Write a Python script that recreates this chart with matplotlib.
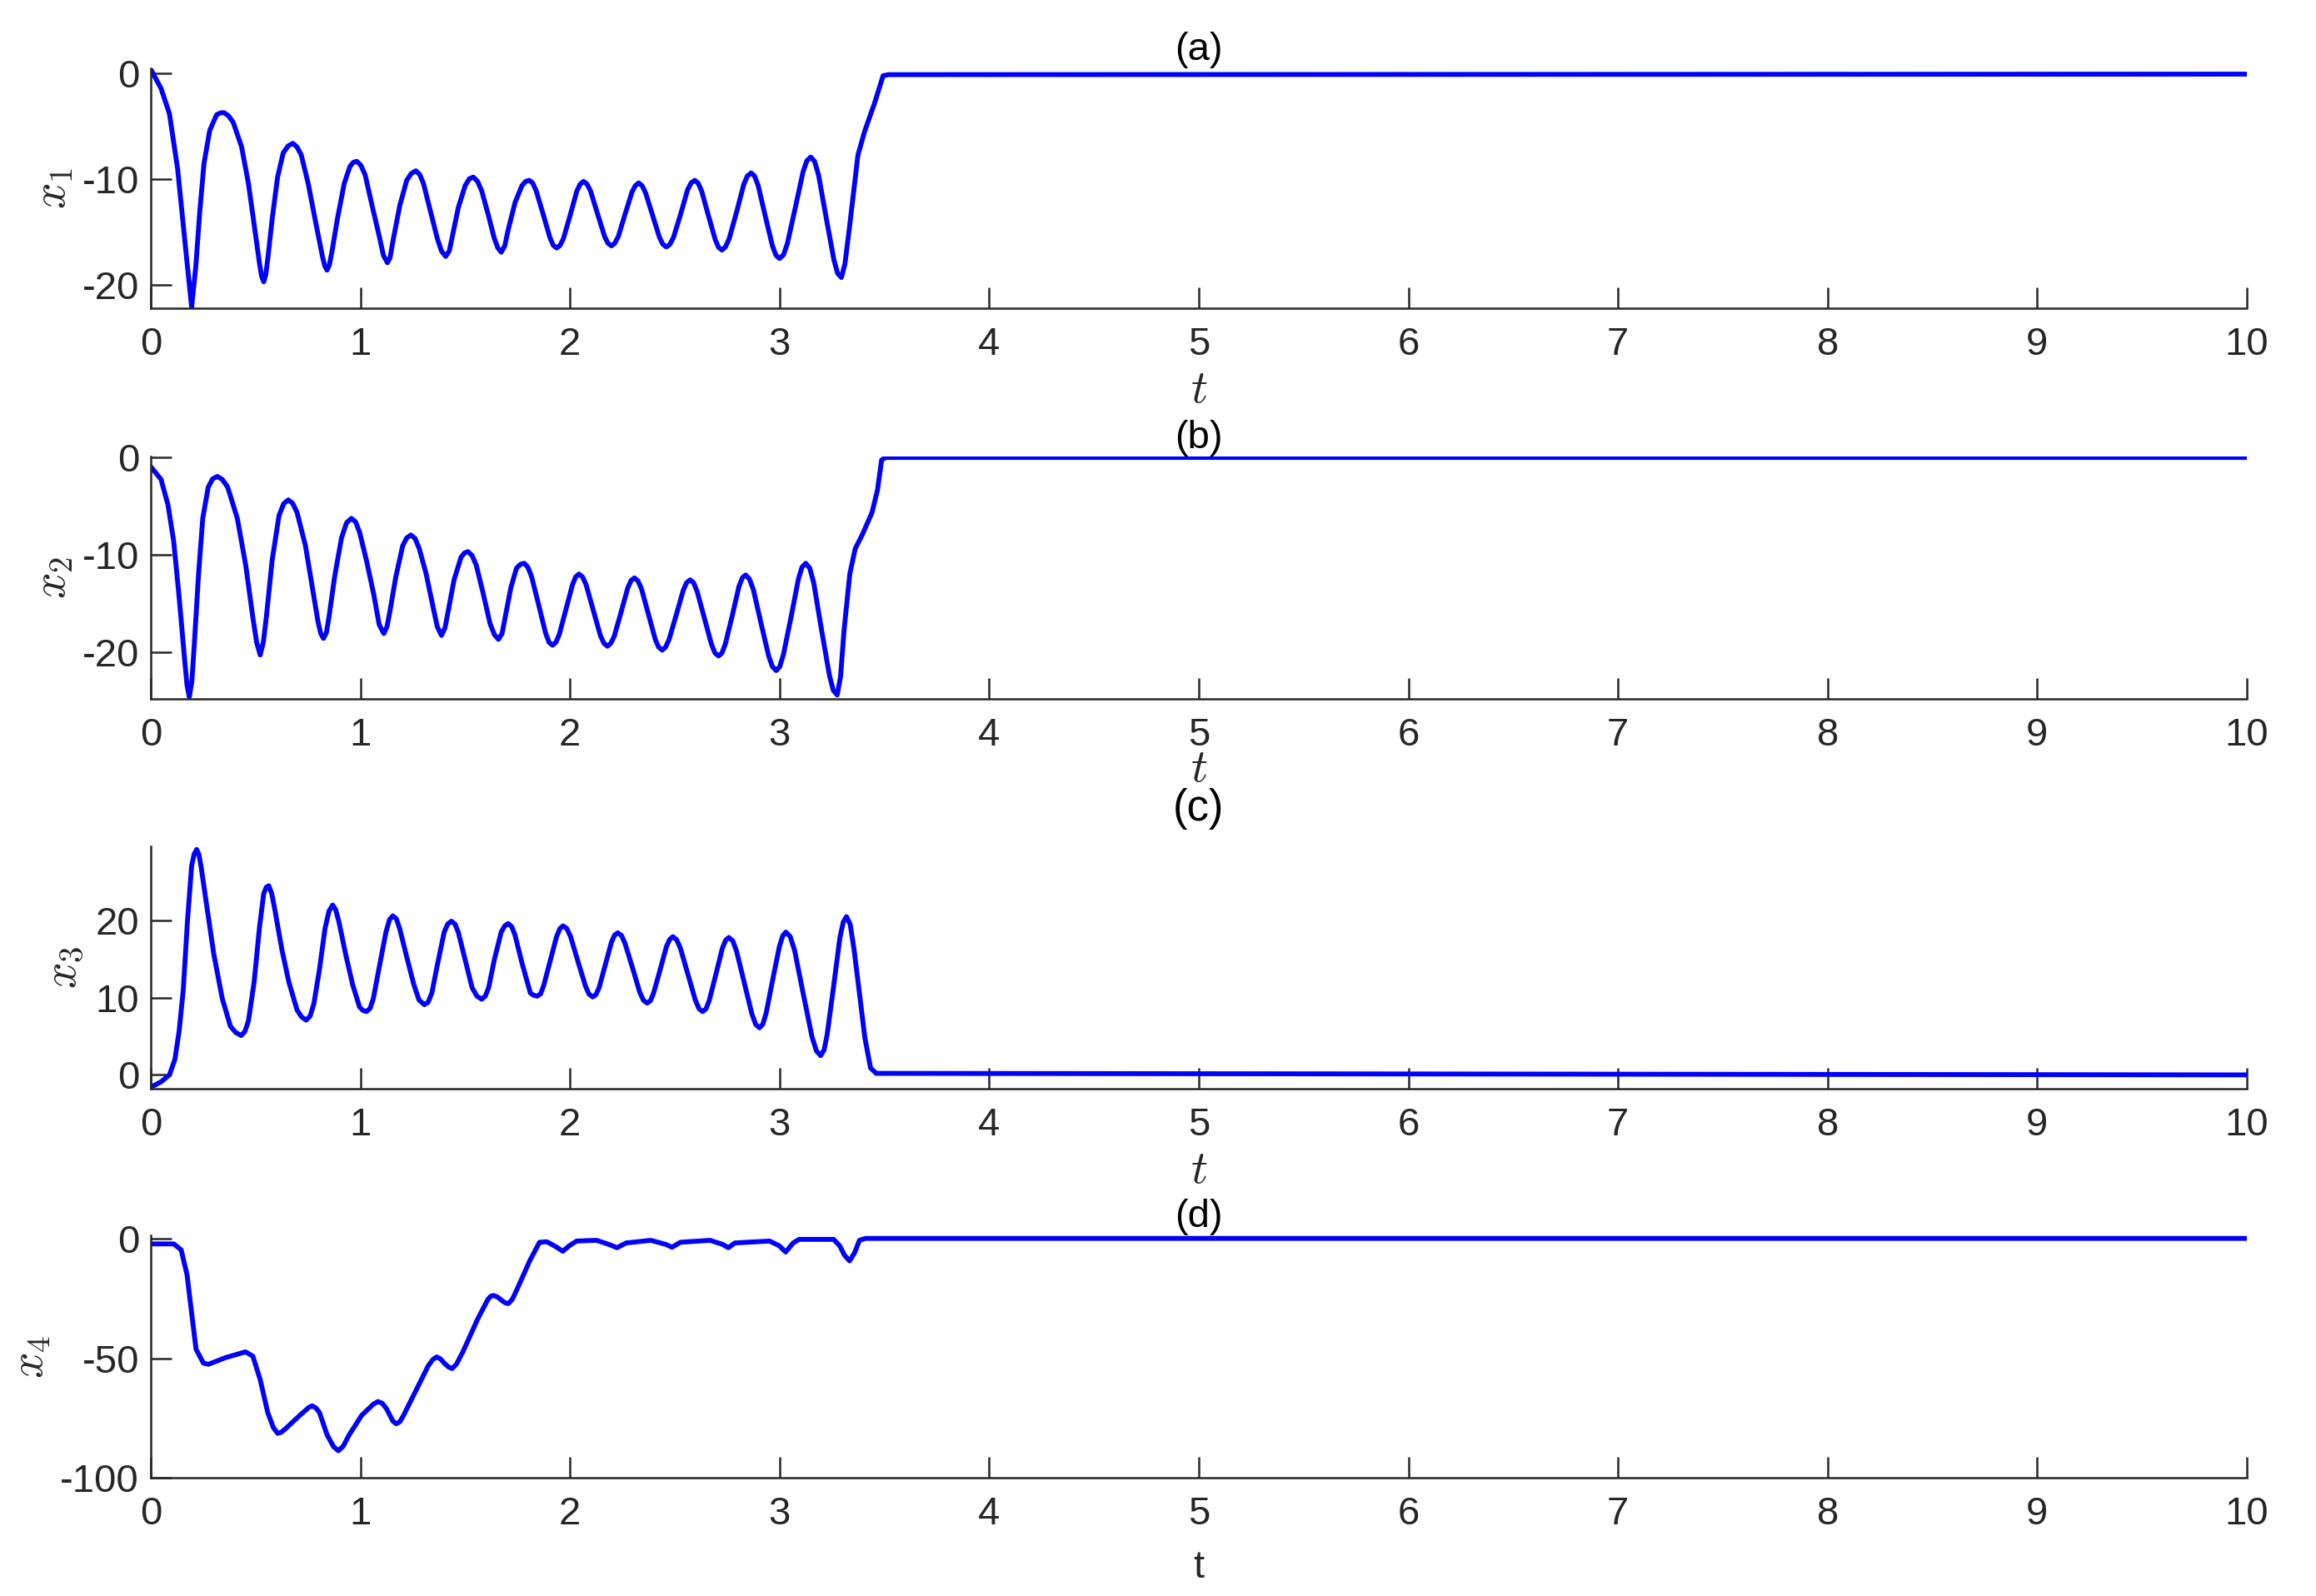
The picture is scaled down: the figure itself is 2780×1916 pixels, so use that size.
import numpy as np
import matplotlib
matplotlib.use("Agg")
import matplotlib.pyplot as plt

plt.rcParams['font.family'] = ['Liberation Sans', 'DejaVu Sans']
plt.rcParams['mathtext.fontset'] = 'cm'
plt.rcParams['axes.unicode_minus'] = False

# (t, value) pairs
x1_pts = [(0.0, 0.4), (0.049, -1.4), (0.089, -3.8), (0.128, -9.0), (0.168, -16.9), (0.195, -22.1), (0.215, -18.2),
          (0.234, -13.0), (0.254, -8.5), (0.281, -5.4), (0.314, -3.9), (0.332, -3.72), (0.350, -3.7), (0.371, -4.0),
          (0.393, -4.6), (0.433, -6.9), (0.466, -10.4), (0.493, -14.3), (0.519, -18.0), (0.529, -19.2), (0.539, -19.7),
          (0.549, -19.0), (0.559, -17.4), (0.579, -13.8), (0.605, -9.8), (0.632, -7.5), (0.655, -6.85), (0.678, -6.6),
          (0.698, -6.95), (0.718, -7.7), (0.751, -10.4), (0.784, -13.8), (0.818, -17.2), (0.830, -18.2), (0.841, -18.6),
          (0.852, -18.1), (0.864, -16.9), (0.890, -13.8), (0.923, -10.4), (0.950, -8.8), (0.966, -8.4), (0.983, -8.3),
          (1.003, -8.7), (1.023, -9.6), (1.056, -12.5), (1.089, -15.3), (1.110, -17.2), (1.129, -17.9), (1.142, -17.4),
          (1.155, -15.9), (1.188, -12.5), (1.221, -10.1), (1.243, -9.45), (1.265, -9.2), (1.283, -9.55), (1.301, -10.4),
          (1.334, -13.0), (1.367, -15.6), (1.387, -16.8), (1.407, -17.3), (1.424, -16.8), (1.440, -15.3), (1.467, -12.7),
          (1.500, -10.6), (1.520, -9.95), (1.539, -9.8), (1.559, -10.2), (1.579, -11.1), (1.612, -13.5), (1.639, -15.6),
          (1.656, -16.5), (1.672, -16.9), (1.689, -16.3), (1.705, -14.8), (1.738, -12.2), (1.771, -10.6), (1.789, -10.2),
          (1.806, -10.1), (1.822, -10.35), (1.839, -11.1), (1.872, -13.3), (1.904, -15.5), (1.920, -16.25), (1.937, -16.5),
          (1.953, -16.25), (1.969, -15.6), (2.001, -13.4), (2.033, -11.1), (2.049, -10.45), (2.065, -10.2), (2.081, -10.45),
          (2.098, -11.1), (2.132, -13.3), (2.165, -15.4), (2.181, -16.05), (2.198, -16.3), (2.214, -16.05), (2.231, -15.4),
          (2.263, -13.3), (2.296, -11.2), (2.312, -10.6), (2.328, -10.35), (2.344, -10.6), (2.361, -11.3), (2.394, -13.4),
          (2.427, -15.5), (2.443, -16.15), (2.460, -16.4), (2.477, -16.15), (2.494, -15.5), (2.528, -13.3), (2.561, -11.0),
          (2.578, -10.35), (2.595, -10.1), (2.611, -10.35), (2.628, -11.1), (2.660, -13.4), (2.693, -15.7), (2.709, -16.45),
          (2.725, -16.7), (2.742, -16.4), (2.760, -15.6), (2.795, -13.1), (2.829, -10.5), (2.846, -9.7), (2.864, -9.4),
          (2.881, -9.7), (2.898, -10.6), (2.932, -13.5), (2.966, -16.3), (2.983, -17.2), (3.000, -17.5), (3.019, -17.15),
          (3.037, -16.1), (3.075, -12.7), (3.112, -9.3), (3.130, -8.25), (3.149, -7.9), (3.167, -8.3), (3.186, -9.6),
          (3.222, -13.6), (3.259, -17.6), (3.277, -18.9), (3.295, -19.3), (3.312, -18.0), (3.335, -14.3), (3.374, -7.7),
          (3.407, -5.4), (3.454, -2.75), (3.494, -0.2), (3.520, -0.1), (10.0, -0.05)]

x2_pts = [(0.0, -1.0), (0.049, -2.3), (0.082, -4.9), (0.109, -8.6), (0.135, -14.3), (0.162, -20.9), (0.173, -23.4),
          (0.184, -24.6), (0.196, -23.0), (0.208, -19.1), (0.228, -12.0), (0.248, -6.3), (0.274, -3.1), (0.295, -2.25),
          (0.317, -2.0), (0.341, -2.3), (0.367, -3.1), (0.413, -6.3), (0.453, -11.1), (0.486, -16.3), (0.505, -19.0),
          (0.522, -20.3), (0.537, -19.0), (0.552, -16.3), (0.579, -10.6), (0.612, -6.0), (0.634, -4.8), (0.656, -4.4),
          (0.677, -4.75), (0.698, -5.7), (0.738, -9.1), (0.771, -13.4), (0.798, -16.9), (0.811, -18.1), (0.824, -18.6),
          (0.838, -18.0), (0.851, -16.3), (0.877, -12.3), (0.910, -8.3), (0.934, -6.75), (0.957, -6.3), (0.977, -6.65),
          (0.996, -7.7), (1.029, -10.6), (1.063, -14.0), (1.090, -17.2), (1.112, -18.1), (1.127, -17.4), (1.142, -15.7),
          (1.169, -12.3), (1.202, -9.1), (1.221, -8.3), (1.241, -8.0), (1.261, -8.35), (1.281, -9.4), (1.314, -12.0),
          (1.347, -15.4), (1.367, -17.4), (1.387, -18.3), (1.404, -17.5), (1.420, -15.7), (1.447, -12.6), (1.480, -10.3),
          (1.496, -9.85), (1.513, -9.7), (1.533, -10.1), (1.553, -11.1), (1.586, -14.0), (1.619, -17.1), (1.639, -18.2),
          (1.659, -18.7), (1.676, -18.1), (1.692, -16.3), (1.718, -13.4), (1.745, -11.4), (1.764, -11.0), (1.782, -10.9),
          (1.799, -11.3), (1.816, -12.2), (1.850, -15.1), (1.883, -18.0), (1.900, -19.0), (1.917, -19.3), (1.933, -19.0),
          (1.949, -18.2), (1.980, -15.7), (2.012, -13.1), (2.027, -12.3), (2.043, -12.0), (2.060, -12.3), (2.077, -13.1),
          (2.111, -15.7), (2.145, -18.3), (2.162, -19.1), (2.179, -19.4), (2.195, -19.1), (2.211, -18.4), (2.244, -15.9),
          (2.276, -13.4), (2.292, -12.65), (2.308, -12.4), (2.324, -12.7), (2.341, -13.5), (2.374, -16.1), (2.407, -18.7),
          (2.423, -19.5), (2.440, -19.8), (2.456, -19.5), (2.473, -18.7), (2.507, -16.2), (2.540, -13.7), (2.556, -12.9),
          (2.573, -12.6), (2.590, -12.9), (2.607, -13.8), (2.641, -16.5), (2.675, -19.2), (2.692, -20.1), (2.709, -20.4),
          (2.725, -20.1), (2.741, -19.2), (2.774, -16.3), (2.806, -13.3), (2.822, -12.4), (2.838, -12.1), (2.856, -12.5),
          (2.875, -13.6), (2.911, -17.0), (2.948, -20.4), (2.966, -21.5), (2.984, -21.9), (3.001, -21.5), (3.019, -20.2),
          (3.055, -16.4), (3.090, -12.5), (3.107, -11.3), (3.125, -10.9), (3.144, -11.4), (3.163, -12.9), (3.200, -17.7),
          (3.238, -22.4), (3.256, -23.9), (3.275, -24.4), (3.291, -22.5), (3.308, -17.7), (3.335, -12.0), (3.361, -9.4),
          (3.394, -8.0), (3.441, -5.7), (3.467, -3.4), (3.487, -0.3), (3.507, -0.05), (10.0, -0.05)]

x3_pts = [(0.0, -1.6), (0.049, -0.9), (0.089, 0.0), (0.115, 2.0), (0.135, 5.6), (0.155, 11.0), (0.175, 19.9),
          (0.195, 27.1), (0.207, 28.6), (0.219, 29.2), (0.230, 28.5), (0.241, 26.8), (0.268, 21.7), (0.301, 15.6),
          (0.341, 9.9), (0.380, 6.3), (0.405, 5.5), (0.431, 5.1), (0.449, 5.6), (0.466, 7.0), (0.493, 12.0),
          (0.519, 19.2), (0.539, 23.5), (0.551, 24.3), (0.563, 24.5), (0.577, 23.5), (0.592, 21.4), (0.625, 16.3),
          (0.659, 12.0), (0.698, 8.4), (0.720, 7.5), (0.741, 7.1), (0.760, 7.6), (0.778, 9.2), (0.804, 13.5),
          (0.831, 18.9), (0.850, 21.2), (0.868, 22.0), (0.882, 21.4), (0.897, 19.9), (0.930, 15.6), (0.963, 11.7),
          (0.996, 8.8), (1.012, 8.35), (1.029, 8.2), (1.046, 8.6), (1.062, 9.9), (1.089, 13.8), (1.122, 18.5),
          (1.139, 20.1), (1.155, 20.6), (1.172, 20.2), (1.188, 18.9), (1.221, 15.3), (1.255, 11.7), (1.280, 9.7),
          (1.305, 9.1), (1.323, 9.4), (1.341, 10.6), (1.367, 14.2), (1.400, 18.5), (1.417, 19.55), (1.434, 19.9),
          (1.451, 19.55), (1.467, 18.5), (1.500, 14.9), (1.533, 11.3), (1.556, 10.2), (1.579, 9.8), (1.596, 10.2),
          (1.612, 11.3), (1.639, 14.9), (1.672, 18.5), (1.689, 19.3), (1.705, 19.6), (1.722, 19.2), (1.738, 18.1),
          (1.771, 14.5), (1.811, 10.6), (1.828, 10.3), (1.844, 10.2), (1.860, 10.5), (1.875, 11.6), (1.906, 14.8),
          (1.936, 17.9), (1.952, 18.95), (1.967, 19.3), (1.985, 18.95), (2.003, 17.9), (2.038, 14.7), (2.074, 11.5),
          (2.091, 10.45), (2.109, 10.1), (2.124, 10.4), (2.139, 11.3), (2.169, 14.3), (2.198, 17.2), (2.213, 18.1),
          (2.228, 18.4), (2.246, 18.05), (2.263, 17.0), (2.298, 13.9), (2.333, 10.7), (2.351, 9.65), (2.368, 9.3),
          (2.384, 9.6), (2.399, 10.6), (2.430, 13.6), (2.460, 16.6), (2.476, 17.55), (2.491, 17.9), (2.509, 17.5),
          (2.527, 16.4), (2.562, 13.1), (2.598, 9.7), (2.616, 8.55), (2.633, 8.2), (2.649, 8.55), (2.664, 9.6),
          (2.696, 13.0), (2.727, 16.4), (2.743, 17.45), (2.758, 17.8), (2.777, 17.35), (2.795, 16.0), (2.831, 12.0),
          (2.868, 7.9), (2.886, 6.55), (2.904, 6.1), (2.920, 6.55), (2.936, 8.0), (2.967, 12.3), (2.999, 16.6),
          (3.015, 18.0), (3.030, 18.5), (3.051, 17.9), (3.072, 16.1), (3.113, 10.5), (3.155, 4.9), (3.176, 3.1),
          (3.196, 2.5), (3.212, 3.2), (3.227, 5.2), (3.258, 11.5), (3.288, 17.8), (3.304, 19.8), (3.319, 20.5),
          (3.337, 19.5), (3.355, 16.3), (3.381, 10.6), (3.407, 4.8), (3.434, 0.9), (3.461, 0.2), (10.0, 0.0)]

x4_pts = [(0.0, -2.1), (0.110, -2.1), (0.145, -4.6), (0.173, -15.0), (0.192, -28.9), (0.216, -46.2), (0.251, -52.0),
          (0.275, -52.5), (0.357, -49.7), (0.452, -47.3), (0.487, -49.1), (0.522, -58.9), (0.558, -72.7), (0.585, -79.0),
          (0.605, -81.4), (0.622, -81.0), (0.640, -79.7), (0.711, -73.9), (0.755, -70.5), (0.770, -69.9), (0.787, -70.7),
          (0.805, -72.7), (0.841, -82.0), (0.872, -87.0), (0.895, -88.7), (0.918, -86.8), (0.947, -82.0), (1.006, -73.9),
          (1.062, -69.2), (1.084, -68.1), (1.104, -68.8), (1.124, -71.0), (1.155, -76.3), (1.171, -77.4), (1.188, -76.6),
          (1.206, -73.9), (1.265, -63.5), (1.324, -53.1), (1.345, -50.6), (1.364, -49.4), (1.383, -50.3), (1.400, -52.0),
          (1.420, -53.6), (1.437, -54.3), (1.458, -52.5), (1.489, -47.3), (1.560, -33.5), (1.608, -25.4), (1.622, -24.0),
          (1.636, -23.7), (1.655, -24.4), (1.678, -26.0), (1.692, -26.8), (1.706, -27.1), (1.725, -25.3), (1.749, -20.8),
          (1.808, -9.2), (1.855, -1.4), (1.890, -1.2), (1.937, -3.5), (1.966, -5.2), (1.996, -2.9), (2.032, -0.9),
          (2.127, -0.6), (2.185, -2.3), (2.225, -3.7), (2.268, -1.7), (2.386, -0.6), (2.457, -2.3), (2.487, -3.5),
          (2.527, -1.4), (2.669, -0.6), (2.728, -2.3), (2.756, -3.7), (2.787, -1.7), (2.952, -0.9), (2.999, -2.9),
          (3.029, -5.5), (3.065, -1.7), (3.093, -0.2), (3.258, -0.2), (3.287, -2.9), (3.310, -6.9), (3.334, -9.2),
          (3.358, -5.8), (3.381, -0.6), (3.411, 0.2), (10.0, 0.2)]

titles = ['(a)', '(b)', '(c)', '(d)']
ylabels = [r'$x_1$', r'$x_2$', r'$x_3$', r'$x_4$']
xlabels = [r'$t$', r'$t$', r'$t$', 't']
ylims = [(-22.2, 0.5), (-24.8, 0.05), (-1.8, 29.6), (-100, 1.5)]
yticks = [[-20, -10, 0], [-20, -10, 0], [0, 10, 20], [-100, -50, 0]]
xticks = list(range(11))

series = [x1_pts, x2_pts, x3_pts, x4_pts]
bottoms = [0.8069, 0.5621, 0.3178, 0.0741]
heights = [0.1503, 0.1519, 0.1519, 0.1519]
ylab_x = [-0.036, -0.036, -0.031, -0.0466]
xlab_pad = [2.5, -2.5, 2.5, 7]

txt = '#262626'
fig = plt.figure(figsize=(13.9, 9.58), dpi=200)

for i in range(4):
    ax = fig.add_axes([0.0651, bottoms[i], 0.905, heights[i]])
    t, x = zip(*series[i])
    ax.plot(t, x, color='#0000ff', lw=2.1, solid_joinstyle='round')
    ax.set_xlim(0, 10)
    ax.set_ylim(*ylims[i])
    ax.set_xticks(xticks)
    ax.set_yticks(yticks[i])
    for s in ['top', 'right']:
        ax.spines[s].set_visible(False)
    for s in ['left', 'bottom']:
        ax.spines[s].set_linewidth(0.9)
        ax.spines[s].set_color(txt)
    ax.tick_params(direction='in', length=9, width=0.9, colors=txt, labelsize=17)
    ax.tick_params(axis='x', pad=8)
    ax.tick_params(axis='y', pad=5)
    if i == 2:
        ax.set_title(titles[i], fontsize=19, color='black', pad=11)
    else:
        ax.set_title(titles[i], fontsize=17, color='black', pad=1)
    ax.set_ylabel(ylabels[i], fontsize=20, color=txt)
    ax.yaxis.set_label_coords(ylab_x[i], 0.5)
    fs = 17 if i == 3 else 20
    ax.set_xlabel(xlabels[i], fontsize=fs, color=txt, labelpad=xlab_pad[i])

fig.savefig('out.png', dpi=200)
